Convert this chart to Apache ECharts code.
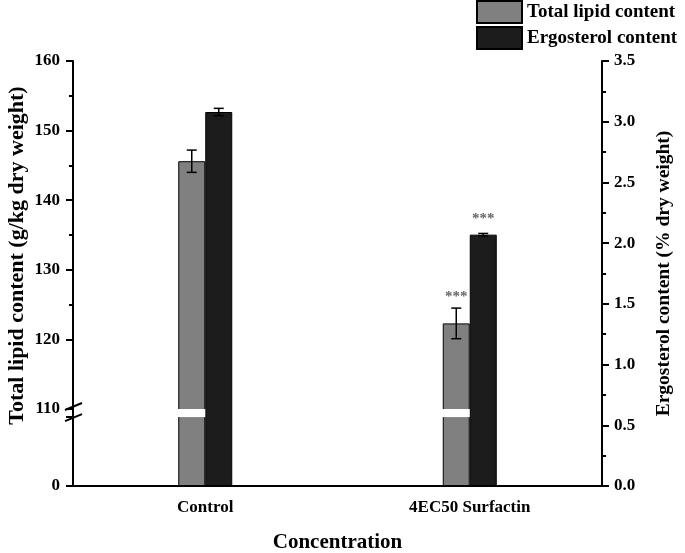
<!DOCTYPE html>
<html><head><meta charset="utf-8">
<script src="https://cdn.jsdelivr.net/npm/echarts@6/dist/echarts.min.js"></script>
<style>html,body{margin:0;padding:0;background:#fff}#c{width:685px;height:553px}</style>
</head><body><div id="c"></div><script>
const categories = ['Control', '4EC50 Surfactin'];
const lipid = [145.6, 122.3];
const lipidErr = [1.6, 2.2];
const ergosterol = [3.08, 2.07];
const ergosterolErr = [0.03, 0.01];
const lipidSig = ['', '***'];
const ergSig = ['', '***'];
const leftTickLabels = [0, 110, 120, 130, 140, 150, 160];
const rightTickLabels = ['0.0','0.5','1.0','1.5','2.0','2.5','3.0','3.5'];
const breakStart = 9.9, breakEnd = 110;

const FONT = "'Liberation Serif', 'Times New Roman', serif";
const BW = 27;
const chart = echarts.init(document.getElementById('c'));

function errSeries(name, vals, errs, sig, yIdx, dx, gap, withBreak) {
  return {
    type: 'custom', name: name + ' err', xAxisIndex: 0, yAxisIndex: yIdx, z: 20,
    data: vals.map((v, i) => [i, v, errs[i]]),
    renderItem: function (params, api) {
      const i = api.value(0), v = api.value(1), e = api.value(2);
      const s = sig[params.dataIndex];
      const top = api.coord([i, v + e]);
      const bot = api.coord([i, v - e]);
      const x = top[0] + dx;
      const st = { stroke: '#000', lineWidth: 1.5 };
      const ch = [];
      if (withBreak) {
        const yb0 = api.coord([i, breakStart])[1];
        const yb1 = api.coord([i, breakEnd])[1];
        ch.push({ type: 'rect', shape: { x: x - BW / 2 - 1, y: yb1, width: BW + 1, height: yb0 - yb1 },
          style: { fill: '#fff' } });
        if (params.dataIndex === 0) {
          const ax = params.coordSys.x;
          const sl = { stroke: '#000', lineWidth: 2 };
          ch.push({ type: 'line', shape: { x1: ax, y1: yb1 - 1, x2: ax, y2: yb0 + 1 }, style: sl });
          ch.push({ type: 'line', shape: { x1: ax - 8, y1: yb1 + 1, x2: ax + 9, y2: yb1 - 6 }, style: sl });
          ch.push({ type: 'line', shape: { x1: ax - 8, y1: yb0 + 4, x2: ax + 9, y2: yb0 - 3 }, style: sl });
        }
      }
      ch.push(
        { type: 'line', shape: { x1: x, y1: top[1], x2: x, y2: bot[1] }, style: st },
        { type: 'line', shape: { x1: x - 5, y1: top[1], x2: x + 5, y2: top[1] }, style: st },
        { type: 'line', shape: { x1: x - 5, y1: bot[1], x2: x + 5, y2: bot[1] }, style: st }
      );
      if (s) ch.push({ type: 'text', x: x, y: top[1] - gap,
        style: { text: s, fill: '#666', font: 'bold 15px ' + FONT, align: 'center', verticalAlign: 'bottom' } });
      return { type: 'group', children: ch };
    }
  };
}

const tickLbl = { fontFamily: FONT, fontWeight: 'bold', fontSize: 17, color: '#000' };
const axLine = { color: '#000', width: 2 };

chart.setOption({
  animation: false,
  backgroundColor: '#fff',
  grid: { left: 73, right: 83, top: 61, bottom: 67, containLabel: false, outerBoundsMode: 'none' },
  legend: {
    orient: 'vertical', left: 476, top: 0, padding: 0, itemWidth: 45, itemHeight: 22, itemGap: 2,
    icon: 'rect', data: ['Total lipid content', 'Ergosterol content'],
    textStyle: { fontFamily: FONT, fontWeight: 'bold', fontSize: 19, color: '#000' }
  },
  xAxis: [{
    type: 'category', data: categories, position: 'bottom',
    name: 'Concentration', nameLocation: 'middle', nameGap: 46, nameMoveOverlap: false,
    nameTextStyle: { fontFamily: FONT, fontWeight: 'bold', fontSize: 21, color: '#000' },
    axisLine: { lineStyle: axLine },
    axisTick: { alignWithLabel: true, length: 7, lineStyle: axLine },
    axisLabel: Object.assign({ margin: 13 }, tickLbl)
  }, {
    type: 'category', data: categories, position: 'bottom',
    axisLine: { show: false }, axisLabel: { show: false },
    axisTick: { length: 4, lineStyle: axLine }
  }],
  yAxis: [{
    type: 'value', min: 0, max: 160, interval: 10,
    breaks: [{ start: breakStart, end: breakEnd, gap: '1.9%' }],
    breakArea: { show: false, expandOnClick: false },
    name: 'Total lipid content (g/kg dry weight)', nameLocation: 'middle', nameGap: 45, nameMoveOverlap: false,
    nameTextStyle: { fontFamily: FONT, fontWeight: 'bold', fontSize: 22, color: '#000', padding: [0, 0, 0, 36] },
    axisLine: { show: true, lineStyle: axLine },
    axisTick: { show: true, length: 7, lineStyle: axLine },
    minorTick: { show: true, splitNumber: 2, length: 4, lineStyle: axLine },
    splitLine: { show: false },
    axisLabel: Object.assign({ margin: 13, formatter: v => leftTickLabels.includes(v) ? String(v) : '' }, tickLbl)
  }, {
    type: 'value', min: 0, max: 3.5, interval: 0.5, position: 'right',
    name: 'Ergosterol content (% dry weight)', nameLocation: 'middle', nameGap: 52, nameRotate: 90, nameMoveOverlap: false,
    nameTextStyle: { fontFamily: FONT, fontWeight: 'bold', fontSize: 19.5, color: '#000' },
    axisLine: { show: true, lineStyle: axLine },
    axisTick: { show: true, length: 7, lineStyle: axLine },
    minorTick: { show: true, splitNumber: 2, length: 4, lineStyle: axLine },
    splitLine: { show: false },
    axisLabel: Object.assign({ margin: 12, formatter: v => rightTickLabels[Math.round(v / 0.5)] }, tickLbl)
  }],
  series: [{
    name: 'Total lipid content', type: 'bar', xAxisIndex: 0, yAxisIndex: 0, barWidth: BW, barGap: '0%',
    data: lipid, itemStyle: { color: '#808080', borderColor: '#000', borderWidth: 1 }, z: 2
  }, {
    name: 'Ergosterol content', type: 'bar', xAxisIndex: 0, yAxisIndex: 1, barWidth: BW, barGap: '0%',
    data: ergosterol, itemStyle: { color: '#1c1c1c', borderColor: '#000', borderWidth: 1 }, z: 2
  },
  errSeries('Total lipid content', lipid, lipidErr, lipidSig, 0, -BW / 2, 3, true),
  errSeries('Ergosterol content', ergosterol, ergosterolErr, ergSig, 1, BW / 2, 7, false)
  ]
});
</script></body></html>
